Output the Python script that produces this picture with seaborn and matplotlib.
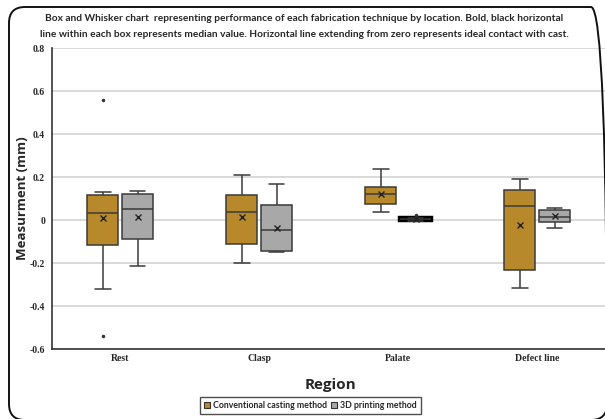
import numpy as np
import pandas as pd
import seaborn as sns
import matplotlib.pyplot as plt
from matplotlib.patches import Patch, FancyBboxPatch

regions = ["Rest", "Clasp", "Palate", "Defect line"]
methods = ["Conventional casting method", "3D printing method"]

rest_conv = [-0.538, -0.32, -0.13, -0.115, 0.0, 0.03, 0.033, 0.10, 0.11, 0.117, 0.13, 0.133, 0.558]
rest_3d = [-0.214, -0.10, -0.089, 0.0, 0.05, 0.08, 0.121, 0.125, 0.137]
clasp_conv = [-0.20, -0.15, -0.11, 0.0, 0.039, 0.08, 0.115, 0.15, 0.211]
clasp_3d = [-0.15, -0.147, -0.143, -0.10, -0.045, -0.04, 0.07, 0.07, 0.169]
palate_conv = [0.038, 0.06, 0.076, 0.10, 0.12, 0.14, 0.155, 0.16, 0.24]
palate_3d = [-0.002, -0.001, 0.0, 0.002, 0.004, 0.006, 0.008, 0.01, 0.025]
defect_conv = [-0.317, -0.25, -0.232, -0.05, 0.067, 0.10, 0.14, 0.164, 0.189]
defect_3d = [-0.035, -0.01, -0.008, 0.01, 0.013, 0.04, 0.047, 0.05, 0.055]

groups = {
    ("Rest", methods[0]): rest_conv, ("Rest", methods[1]): rest_3d,
    ("Clasp", methods[0]): clasp_conv, ("Clasp", methods[1]): clasp_3d,
    ("Palate", methods[0]): palate_conv, ("Palate", methods[1]): palate_3d,
    ("Defect line", methods[0]): defect_conv, ("Defect line", methods[1]): defect_3d,
}
rows = []
for (reg, meth), vals in groups.items():
    for v in vals:
        rows.append({"Region": reg, "Method": meth, "Value": v})
df = pd.DataFrame(rows)

colors = ["#B8892B", "#A8A8A8"]

sns.set_style("white")
fig = plt.figure(figsize=(6.05, 4.19), dpi=100)
ax = fig.add_axes([0.086, 0.167, 0.919, 0.718])

sns.boxplot(data=df, x="Region", y="Value", hue="Method", order=regions,
            hue_order=methods, palette=colors, saturation=1, width=0.5, gap=0.1,
            linecolor="#3a3a3a", linewidth=1.1, showmeans=True,
            meanprops=dict(marker="x", markeredgecolor="#222222", markersize=4.5),
            flierprops=dict(marker=".", markersize=3, markerfacecolor="#333333",
                            markeredgecolor="#333333"),
            ax=ax)

# the flat palate 3D box is drawn heavy and black in the original
flat = min(ax.patches, key=lambda p: np.ptp(p.get_path().vertices[:, 1]))
flat.set_edgecolor("black")
flat.set_linewidth(3.2)

ax.set_ylim(-0.6, 0.8)
ax.set_xlim(-0.49, 3.51)
ax.set_yticks(np.arange(-0.6, 0.81, 0.2))
ax.set_yticklabels(["-0.6", "-0.4", "-0.2", "0", "0.2", "0.4", "0.6", "0.8"])
ax.yaxis.grid(True, color="#D9D9D9", linewidth=1.4)
ax.set_axisbelow(True)
ax.set_xticks([0, 1, 2, 3])
ax.set_xticks([0.5, 1.5, 2.5], minor=True)
ax.tick_params(axis="x", which="both", direction="in", length=3, width=0.8, color="#333333")
ax.tick_params(axis="y", length=0, pad=5)
for lab in ax.get_xticklabels() + ax.get_yticklabels():
    lab.set_fontfamily("Liberation Serif")
    lab.set_fontweight("bold")
    lab.set_fontsize(7)
for side in ["top", "right"]:
    ax.spines[side].set_visible(False)
for side in ["left", "bottom"]:
    ax.spines[side].set_color("#333333")
    ax.spines[side].set_linewidth(1.2)

ax.set_ylabel("Measurment (mm)", fontfamily="Open Sans", fontweight="bold", fontsize=9.5)
ax.yaxis.set_label_coords(-0.041, 0.5)
ax.set_xlabel("Region", fontfamily="Open Sans", fontweight="bold", fontsize=11, labelpad=11)

fig.text(0.503, 0.937, "Box and Whisker chart  representing performance of each fabrication technique by location. Bold, black horizontal\n"
         "line within each box represents median value. Horizontal line extending from zero represents ideal contact with cast.",
         ha="center", va="center", fontfamily="Lato", fontweight="bold", fontsize=7.3, linespacing=2.0)

ax.get_legend().remove()
handles = [Patch(facecolor=c, edgecolor="#333333", linewidth=0.8) for c in colors]
fig.legend(handles, methods, loc="center", bbox_to_anchor=(0.513, 0.032), ncol=2,
           frameon=True, edgecolor="#222222", fancybox=False, handlelength=0.7, handleheight=0.7,
           handletextpad=0.3, columnspacing=0.5, borderpad=0.45,
           prop=dict(family="Lato", weight="bold", size=6.3))

# rounded frame around the whole figure (pixel coordinates)
border = FancyBboxPatch((9, -1), 598, 413, boxstyle="round,pad=0,rounding_size=16",
                        transform=None, fill=False, edgecolor="#111111", linewidth=1.4)
fig.patches.append(border)

fig.savefig("out.png", dpi=100)
